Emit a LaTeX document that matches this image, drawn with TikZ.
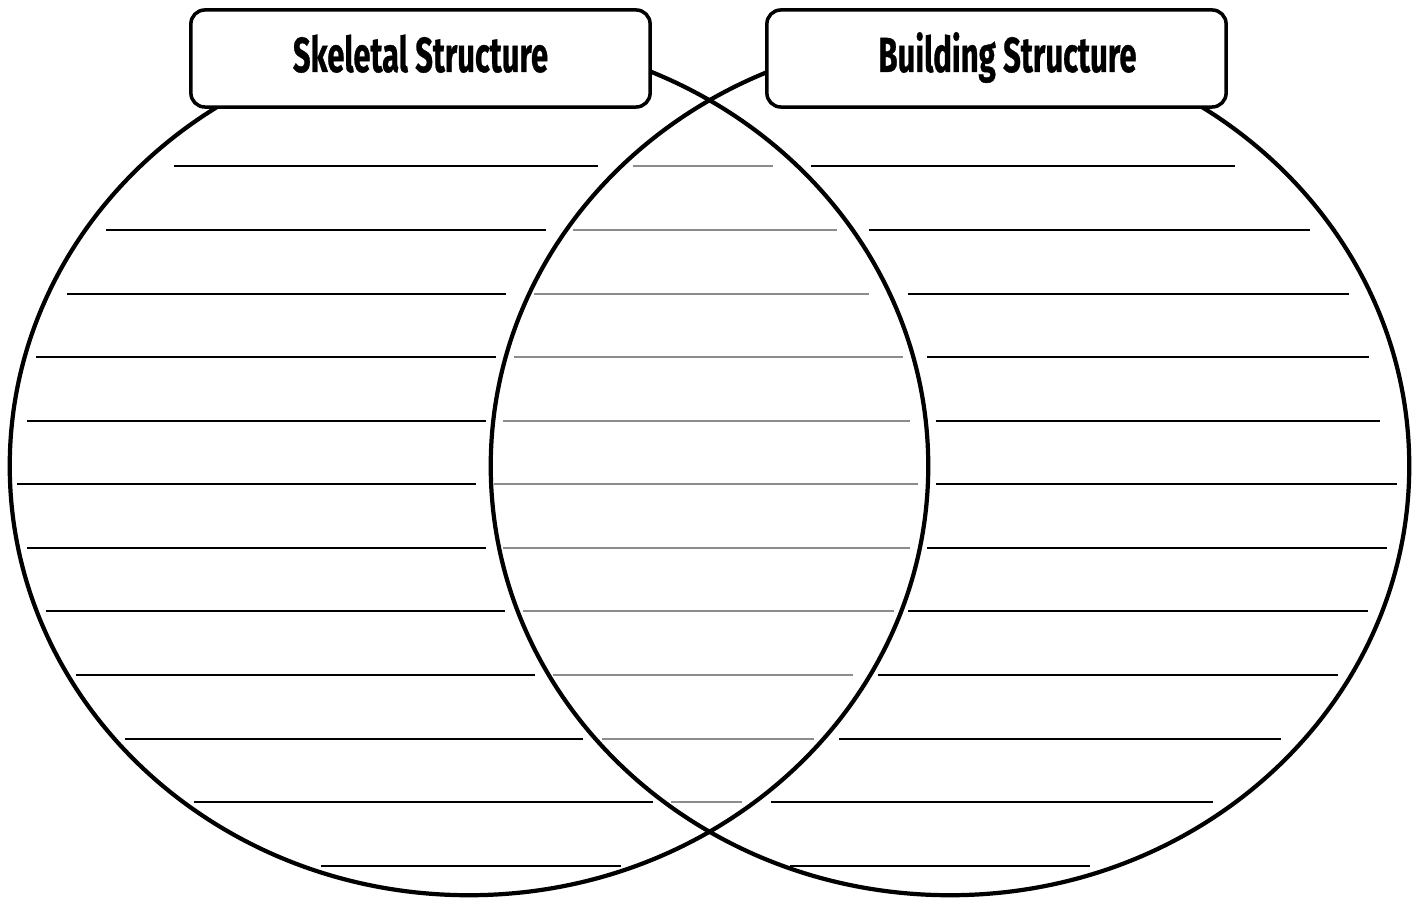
\documentclass[tikz,border=0pt]{standalone}
\usepackage{fontspec}
\usepackage{graphicx}
\newfontfamily\titlefont{Fira Sans}[UprightFont=* Bold, FakeBold=0.8]
\begin{document}
\begin{tikzpicture}[x=0.01cm,y=-0.01cm,
  ring/.style={line width=1.2pt,black},
  blk/.style={line width=0.72pt,black},
  gry/.style={line width=0.72pt,color=black!45},
  titlebox/.style={draw,line width=1pt,fill=white,rounded corners=0.14cm,
    minimum width=4.59cm,minimum height=0.97cm,inner sep=0pt},
  titletext/.style={anchor=base,inner sep=0pt,font=\titlefont\fontsize{14}{14}\selectfont}]
\useasboundingbox[fill=white] (0,0) rectangle (1417,898);
% circles
\draw[ring] (469,466) ellipse [x radius=4.59cm, y radius=4.29cm];
\draw[ring] (950,466) ellipse [x radius=4.59cm, y radius=4.29cm];
% writing lines
\foreach \y/\a/\b/\c/\d/\e/\f in {
  166/174/598/633/773/811/1235,
  230/106/546/573/837/869/1310,
  294/67/506/534/869/908/1349,
  357/36/496/514/903/927/1369,
  421/27/486/503/910/936/1380,
  484/17/476/494/918/936/1397,
  548/27/486/503/910/927/1387,
  611/46/505/523/894/908/1368,
  675/76/535/553/853/878/1338,
  739/125/583/602/814/839/1281,
  802/194/653/671/742/771/1213}{
  \draw[blk] (\a,\y) -- (\b,\y);
  \draw[gry] (\c,\y) -- (\d,\y);
  \draw[blk] (\e,\y) -- (\f,\y);
}
\draw[blk] (321,866) -- (621,866);
\draw[blk] (790,866) -- (1090,866);
% title boxes
\node[titlebox] (lbox) at (420.5,58.5) {};
\node[titlebox] (rbox) at (996.5,58.5) {};
\node[titletext] (ltitle) at (420.5,72) {\resizebox{2.55cm}{\height}{Skeletal Structure}};
\node[titletext] (rtitle) at (1007.5,72) {\resizebox{2.58cm}{\height}{Building Structure}};
\end{tikzpicture}
\end{document}
